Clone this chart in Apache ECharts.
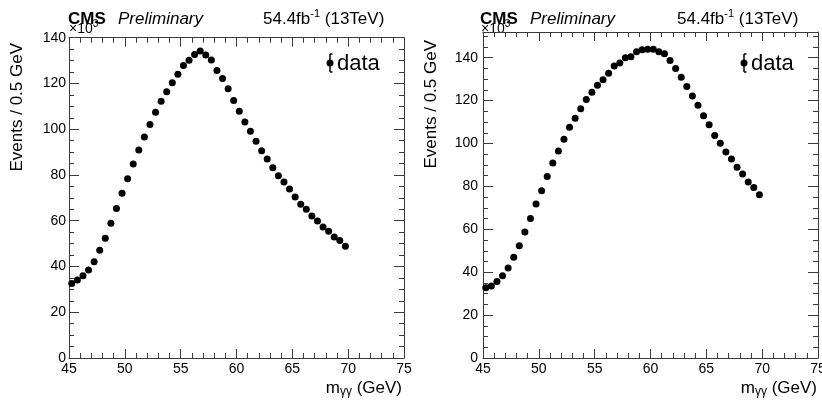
<!DOCTYPE html>
<html><head><meta charset="utf-8">
<script src="https://cdn.jsdelivr.net/npm/echarts@6/dist/echarts.min.js"></script>
<style>html,body{margin:0;padding:0;background:#fff}#c{width:822px;height:401px}</style>
</head><body><div id="c"></div>
<script>
// ---- data (units of 10^3 events / 0.5 GeV) ----
const massBins = [45.25,45.75,46.25,46.75,47.25,47.75,48.25,48.75,49.25,49.75,
  50.25,50.75,51.25,51.75,52.25,52.75,53.25,53.75,54.25,54.75,
  55.25,55.75,56.25,56.75,57.25,57.75,58.25,58.75,59.25,59.75,
  60.25,60.75,61.25,61.75,62.25,62.75,63.25,63.75,64.25,64.75,
  65.25,65.75,66.25,66.75,67.25,67.75,68.25,68.75,69.25,69.75];
const leftEvents = [32.6,34.1,36.0,38.5,42.1,47.1,52.3,58.9,65.3,72.0,
  78.4,84.8,90.9,96.6,102.1,107.4,112.2,116.4,120.3,124.0,
  127.8,130.1,132.7,134.2,132.4,130.2,125.7,122.2,117.7,112.5,
  107.8,103.1,99.1,94.7,90.6,87.0,83.2,79.7,76.9,73.9,
  70.4,67.2,65.0,62.1,59.9,57.3,55.4,52.9,51.4,48.8];
const rightEvents = [32.8,33.6,35.7,38.3,42.0,47.0,52.3,58.7,65.1,71.8,
  78.0,84.6,90.9,96.5,102.0,107.6,111.8,116.2,120.5,123.9,
  127.2,129.7,132.8,136.1,137.5,140.0,140.5,142.8,143.7,144.0,
  144.0,142.8,141.9,138.7,135.0,130.9,126.6,122.2,117.9,112.9,
  108.8,103.8,100.1,96.1,92.8,88.9,85.8,82.1,79.5,76.1];
const xRange = [45, 75];
const leftYMax = 140;
const rightYMax = 152;
const seriesName = 'data';

const FF = '"Liberation Sans", Arial, Helvetica, sans-serif';
const ctx = document.createElement('canvas').getContext('2d');
function tw(t, f){ ctx.font = f; return ctx.measureText(t).width; }

function pieces(list, x0, cy){
  const out = [];
  let x = x0;
  list.forEach(p => {
    const font = (p[3] ? p[3] + ' ' : '') + p[1] + 'px ' + FF;
    out.push({type:'text', x: x, y: cy + p[2], silent:true,
      style:{text:p[0], font: font, fill:'#000', textVerticalAlign:'middle', textAlign:'left'}});
    x += tw(p[0], font);
  });
  return out;
}
function piecesRight(list, xr, cy){
  let w = 0;
  list.forEach(p => { w += tw(p[0], (p[3] ? p[3] + ' ' : '') + p[1] + 'px ' + FF); });
  return pieces(list, xr - w, cy);
}

const axisColor = '#3a3a3a';
function xAx(gi, pos, showLabel){
  return {type:'value', gridIndex:gi, position:pos, min:xRange[0], max:xRange[1], interval:5,
    axisLine:{show:true, onZero:false, lineStyle:{color:axisColor, width:1}},
    axisTick:{show:true, inside:true, length:9, lineStyle:{color:axisColor}},
    minorTick:{show:true, splitNumber:5, length:5, lineStyle:{color:axisColor}},
    splitLine:{show:false}, minorSplitLine:{show:false},
    axisLabel:{show:showLabel, color:'#000', fontSize:14, fontFamily:FF, margin:4, showMaxLabel:true, showMinLabel:true}};
}
function yAx(gi, pos, showLabel, ymax, margin){
  return {type:'value', gridIndex:gi, position:pos, min:0, max:ymax, interval:20,
    axisLine:{show:true, onZero:false, lineStyle:{color:axisColor, width:1}},
    axisTick:{show:true, inside:true, length:10, lineStyle:{color:axisColor}},
    minorTick:{show:true, splitNumber:4, length:5, lineStyle:{color:axisColor}},
    splitLine:{show:false}, minorSplitLine:{show:false},
    axisLabel:{show:showLabel, color:'#000', fontSize:14, fontFamily:FF, margin:margin,
      showMaxLabel: ymax % 20 === 0, showMinLabel:true}};
}

function panelGraphics(dx, xAxisRight, yTitleTop, cmsX){
  const g = [];
  g.push(...pieces([['CMS',17,0,'bold']], cmsX, 19));
  g.push(...pieces([['Preliminary',17,0,'italic']], cmsX + 50, 19));
  g.push(...pieces([['54.4fb',17,0],['-1',11,-5],[' (13TeV)',17,0]], 263 + dx, 19));
  g.push(...pieces([['\u00d710',14,0],['3',10,-5]], cmsX + 1, 29));
  // legend
  const lx = 330 + dx, ly = 63;
  g.push({type:'line', shape:{x1:lx, y1:ly-9, x2:lx, y2:ly+9}, style:{stroke:'#000', lineWidth:1.5}, silent:true});
  g.push({type:'line', shape:{x1:lx+2.5, y1:ly-9, x2:lx, y2:ly-9}, style:{stroke:'#000', lineWidth:1.5}, silent:true});
  g.push({type:'line', shape:{x1:lx+2.5, y1:ly+9, x2:lx, y2:ly+9}, style:{stroke:'#000', lineWidth:1.5}, silent:true});
  g.push({type:'circle', shape:{cx:lx, cy:ly, r:3.5}, style:{fill:'#000'}, silent:true});
  g.push(...pieces([[seriesName,22,0]], lx + 7, 64));
  // x-axis title
  g.push(...piecesRight([['m',17,0],['\u03b3\u03b3',12,4],[' (GeV)',17,0]], xAxisRight, 388));
  // y-axis title
  g.push({type:'text', x: 17 + dx, y: yTitleTop, rotation: Math.PI/2, silent:true,
    style:{text:'Events / 0.5 GeV', font:'17px ' + FF, fill:'#000', textAlign:'right', textVerticalAlign:'middle'}});
  return g;
}

const chart = echarts.init(document.getElementById('c'), null, {renderer:'canvas'});
chart.setOption({
  animation:false,
  backgroundColor:'#fff',
  grid:[
    {left:69, right:418, top:37.7, bottom:43, containLabel:false, outerBoundsMode:'none'},
    {left:483, right:4, top:32, bottom:43, containLabel:false, outerBoundsMode:'none'}
  ],
  xAxis:[xAx(0,'bottom',true), xAx(0,'top',false), xAx(1,'bottom',true), xAx(1,'top',false)],
  yAxis:[yAx(0,'left',true,leftYMax,3), yAx(0,'right',false,leftYMax,3),
         yAx(1,'left',true,rightYMax,5), yAx(1,'right',false,rightYMax,5)],
  series:[
    {name:seriesName, type:'scatter', xAxisIndex:0, yAxisIndex:0, symbol:'circle', symbolSize:7,
      itemStyle:{color:'#000', opacity:1}, data: massBins.map((m,i)=>[m, leftEvents[i]])},
    {name:seriesName, type:'scatter', xAxisIndex:2, yAxisIndex:2, symbol:'circle', symbolSize:7,
      itemStyle:{color:'#000', opacity:1}, data: massBins.map((m,i)=>[m, rightEvents[i]])}
  ],
  graphic: panelGraphics(0, 402, 43, 68).concat(panelGraphics(414, 817, 40, 480))
});
</script></body></html>
